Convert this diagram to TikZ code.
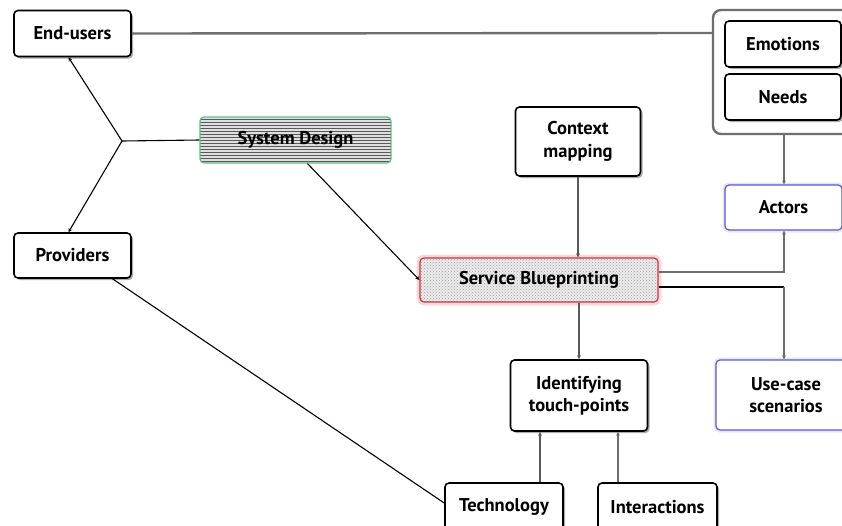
\documentclass[tikz,border=0pt]{standalone}
\usepackage{fontspec}
\setmainfont{PT Sans}
\usetikzlibrary{arrows.meta,patterns,shadows}
\definecolor{lgray}{HTML}{6E6E6E}
\definecolor{bluebd}{HTML}{5A5AC8}
\definecolor{redbd}{HTML}{D0303C}
\definecolor{greenbd}{HTML}{5CC08A}
\tikzset{
  txt/.style={font=\bfseries\fontsize{18.5}{20}\selectfont},
  box/.style={txt, draw=black, line width=1.6pt, rounded corners=4pt, fill=white, align=center,
    inner sep=2pt,
    drop shadow={shadow xshift=2pt, shadow yshift=-2pt, fill=gray!65, opacity=1}},
  bluebox/.style={txt, draw=bluebd, line width=1.2pt, rounded corners=4pt, fill=white, align=center,
    preaction={draw=bluebd!25, line width=5pt, opacity=0.6}},
  lnthin/.style={draw=black, line width=1.1pt},
  lnthick/.style={draw=lgray, line width=2.4pt},
  lnmid/.style={draw=black!65, line width=2.2pt},
  tip/.style={-{Stealth[length=4pt,width=4pt]}},
}
\begin{document}
\begin{tikzpicture}[x=1pt,y=-1pt]
\useasboundingbox (0,0) rectangle (842,525);
\clip (0,0) rectangle (842,525);
\fill[white] (0,0) rectangle (842,525);

% container
\draw[lgray, line width=2.4pt, rounded corners=8pt, fill=white] (713,10) rectangle (870,134);
\coordinate (contW) at (713,33);
\coordinate (contS) at (784,134);

\node[box, minimum width=117pt, minimum height=46pt] (endusers) at (72.5,33.5) {End-users};
\node[box, minimum width=117pt, minimum height=45pt] (providers) at (72.5,255.5) {Providers};
\node[txt, draw=greenbd, line width=1.2pt, rounded corners=4pt, align=center,
  preaction={fill=gray!25}, pattern=horizontal lines, pattern color=black!65,
  minimum width=191pt, minimum height=46pt] (sysdesign) at (295.5,140) {System Design};
\node[box, minimum width=125pt, minimum height=69pt] (context) at (578,141.5) {Context\\[3pt]mapping};
\node[txt, draw=redbd, line width=1.2pt, rounded corners=4pt, align=center,
  preaction={draw=redbd!25, line width=7pt, opacity=0.7},
  preaction={fill=gray!15}, pattern=crosshatch dots, pattern color=gray!75,
  minimum width=238pt, minimum height=44pt] (sb) at (539,280) {Service Blueprinting};
\node[box, minimum width=116pt, minimum height=46pt] (emotions) at (783,44) {Emotions};
\node[box, minimum width=116pt, minimum height=46pt] (needs) at (783,97) {Needs};
\node[bluebox, minimum width=117pt, minimum height=45pt] (actors) at (783.5,207.5) {Actors};
\node[bluebox, minimum width=140pt, minimum height=70pt] (usecase) at (786,395) {Use-case\\[2pt]scenarios};
\node[box, minimum width=137pt, minimum height=71pt] (ident) at (579,395.5) {Identifying\\[2pt]touch-points};
\node[box, minimum width=118pt, minimum height=48pt] (tech) at (504,507) {Technology};
\node[box, minimum width=119pt, minimum height=48pt] (inter) at (657.5,507) {Interactions};

\coordinate (J) at (122,141);

% connectors
\draw[lnthick] (endusers.east) -- (contW);
\draw[lnthin, tip] (J) -- ([xshift=-4pt]endusers.south);
\draw[lnthin, tip] (J) -- ([xshift=-4pt]providers.north);
\draw[lnthin] (J) -- (sysdesign.west);
\draw[lnthin, tip] ([xshift=12pt]sysdesign.south) -- (sb.west);
\draw[lnmid, tip] (context.south) -- (context.south |- sb.north);
\draw[lnthick, tip] (contS) -- (contS |- actors.north);
\draw[lnthick, tip] ([yshift=8pt]sb.east) -| (contS |- actors.south);
\draw[lnthin, line width=1.4pt] ([yshift=-7pt]sb.east) -- ([yshift=-7pt]sb.east -| contS);
\draw[lnthick, tip] ([yshift=-7pt]sb.east -| contS) -- (contS |- usecase.north);
\draw[lnmid, tip] (ident.north |- sb.south) -- (ident.north);
\draw[lnmid, tip] ([xshift=36pt]tech.north) -- ([xshift=36pt]tech.north |- ident.south);
\draw[lnthick, tip] ([xshift=-39.5pt]inter.north) -- ([xshift=-39.5pt]inter.north |- ident.south);
\draw[lnthin] ([xshift=40pt]providers.south) -- ([yshift=4pt]tech.west);
\end{tikzpicture}
\end{document}
